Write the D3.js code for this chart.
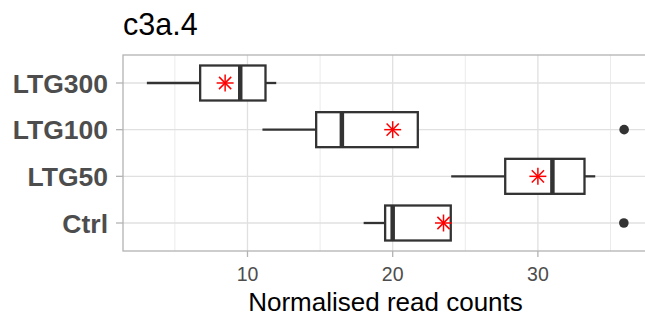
<!DOCTYPE html>
<html>
<head>
<meta charset="utf-8">
<script src="https://cdn.jsdelivr.net/npm/d3@7"></script>
<style>
  body { margin: 0; background: #fff; }
  svg { display: block; font-family: "Liberation Sans", Arial, sans-serif; }
</style>
</head>
<body>
<div class="box"></div>
<script>
const categories = ["LTG300", "LTG100", "LTG50", "Ctrl"]
const whiskerLow = [3.07, 11.03, 24.03, 18.0]
const q1 = [6.74, 14.73, 27.75, 19.48]
const median = [9.5, 16.5, 31.0, 20.0]
const q3 = [11.24, 21.73, 33.21, 24.0]
const whiskerHigh = [11.98, 21.73, 33.95, 24.0]
const means = [8.46, 20.0, 30.0, 23.5]
const outlierGroups = ["LTG100", "Ctrl"]
const outlierValues = [35.94, 35.92]
const majorTicks = [10, 20, 30]
const minorTicks = [5, 15, 25, 35]

const width = 645
const height = 318
const panel = { left: 123, right: 648, top: 55, bottom: 251 }

const allValues = whiskerLow.concat(whiskerHigh, outlierValues)
const [lo, hi] = d3.extent(allValues)
const pad = (hi - lo) * 0.05

const x = d3.scaleLinear()
    .domain([lo - pad, hi + pad])
    .range([panel.left, panel.right])

const y = d3.scalePoint()
    .domain(categories)
    .range([panel.top, panel.bottom])
    .padding(0.6)

const boxH = y.step() * 0.75

const svg = d3.select('.box')
    .append('svg')
    .attr('width', width)
    .attr('height', height)

svg.append('defs').append('clipPath').attr('id', 'clip')
    .append('rect')
    .attr('x', panel.left).attr('y', panel.top)
    .attr('width', panel.right - panel.left).attr('height', panel.bottom - panel.top)

const grid = svg.append('g')

grid.selectAll('.minor')
    .data(minorTicks).enter()
    .append('line')
    .attr('x1', d => x(d)).attr('x2', d => x(d))
    .attr('y1', panel.top).attr('y2', panel.bottom)
    .attr('stroke', '#ebebeb').attr('stroke-width', 1)

grid.selectAll('.majorx')
    .data(majorTicks).enter()
    .append('line')
    .attr('x1', d => x(d)).attr('x2', d => x(d))
    .attr('y1', panel.top).attr('y2', panel.bottom)
    .attr('stroke', '#e0e0e0').attr('stroke-width', 1.3)

grid.selectAll('.majory')
    .data(categories).enter()
    .append('line')
    .attr('x1', panel.left).attr('x2', panel.right)
    .attr('y1', d => y(d)).attr('y2', d => y(d))
    .attr('stroke', '#e0e0e0').attr('stroke-width', 1.3)

// panel border
svg.append('rect')
    .attr('x', panel.left).attr('y', panel.top)
    .attr('width', panel.right - panel.left).attr('height', panel.bottom - panel.top)
    .attr('fill', 'none').attr('stroke', '#b3b3b3').attr('stroke-width', 1.3)

const marks = svg.append('g').attr('clip-path', 'url(#clip)')
const ink = '#333333'

categories.forEach((c, i) => {
    const cy = y(c)
    const g = marks.append('g')
    g.append('line')
        .attr('x1', x(whiskerLow[i])).attr('x2', x(q1[i]))
        .attr('y1', cy).attr('y2', cy)
        .attr('stroke', ink).attr('stroke-width', 2.3)
    g.append('line')
        .attr('x1', x(q3[i])).attr('x2', x(whiskerHigh[i]))
        .attr('y1', cy).attr('y2', cy)
        .attr('stroke', ink).attr('stroke-width', 2.3)
    g.append('rect')
        .attr('x', x(q1[i])).attr('y', cy - boxH / 2)
        .attr('width', x(q3[i]) - x(q1[i])).attr('height', boxH)
        .attr('fill', '#fff').attr('stroke', ink).attr('stroke-width', 2.3)
    g.append('line')
        .attr('x1', x(median[i])).attr('x2', x(median[i]))
        .attr('y1', cy - boxH / 2).attr('y2', cy + boxH / 2)
        .attr('stroke', ink).attr('stroke-width', 4.5)
})

marks.selectAll('circle')
    .data(outlierValues).enter()
    .append('circle')
    .attr('cx', d => x(d))
    .attr('cy', (d, i) => y(outlierGroups[i]))
    .attr('r', 4.8)
    .attr('fill', ink)

// mean stars (shape 8)
const r = 8.5
const rd = r * 0.72
means.forEach((m, i) => {
    const g = marks.append('g')
        .attr('transform', `translate(${x(m)},${y(categories[i])})`)
        .attr('stroke', '#ff0000').attr('stroke-width', 1.5)
    g.append('line').attr('x1', -r).attr('x2', r).attr('y1', 0).attr('y2', 0)
    g.append('line').attr('x1', 0).attr('x2', 0).attr('y1', -r).attr('y2', r)
    g.append('line').attr('x1', -rd).attr('x2', rd).attr('y1', -rd).attr('y2', rd)
    g.append('line').attr('x1', -rd).attr('x2', rd).attr('y1', rd).attr('y2', -rd)
})

// y axis
const yAxis = svg.append('g')
yAxis.selectAll('line')
    .data(categories).enter()
    .append('line')
    .attr('x1', panel.left - 7).attr('x2', panel.left)
    .attr('y1', d => y(d)).attr('y2', d => y(d))
    .attr('stroke', '#b3b3b3').attr('stroke-width', 1.3)
yAxis.selectAll('text')
    .data(categories).enter()
    .append('text')
    .attr('x', 108)
    .attr('y', d => y(d))
    .attr('dy', '0.36em')
    .attr('text-anchor', 'end')
    .attr('font-size', 26.5)
    .attr('font-weight', 'bold')
    .attr('fill', '#4d4d4d')
    .text(d => d)

// x axis
const xAxis = svg.append('g')
xAxis.selectAll('line')
    .data(majorTicks).enter()
    .append('line')
    .attr('x1', d => x(d)).attr('x2', d => x(d))
    .attr('y1', panel.bottom).attr('y2', panel.bottom + 6)
    .attr('stroke', '#b3b3b3').attr('stroke-width', 1.3)
xAxis.selectAll('text')
    .data(majorTicks).enter()
    .append('text')
    .attr('x', d => x(d))
    .attr('y', 281)
    .attr('text-anchor', 'middle')
    .attr('font-size', 19.5)
    .attr('fill', '#4d4d4d')
    .text(d => d)

svg.append('text')
    .attr('x', (panel.left + panel.right) / 2)
    .attr('y', 311)
    .attr('text-anchor', 'middle')
    .attr('font-size', 26)
    .attr('fill', '#000')
    .text('Normalised read counts')

svg.append('text')
    .attr('x', 123)
    .attr('y', 35)
    .attr('font-size', 30.5)
    .attr('fill', '#000')
    .text('c3a.4')
</script>
</body>
</html>
